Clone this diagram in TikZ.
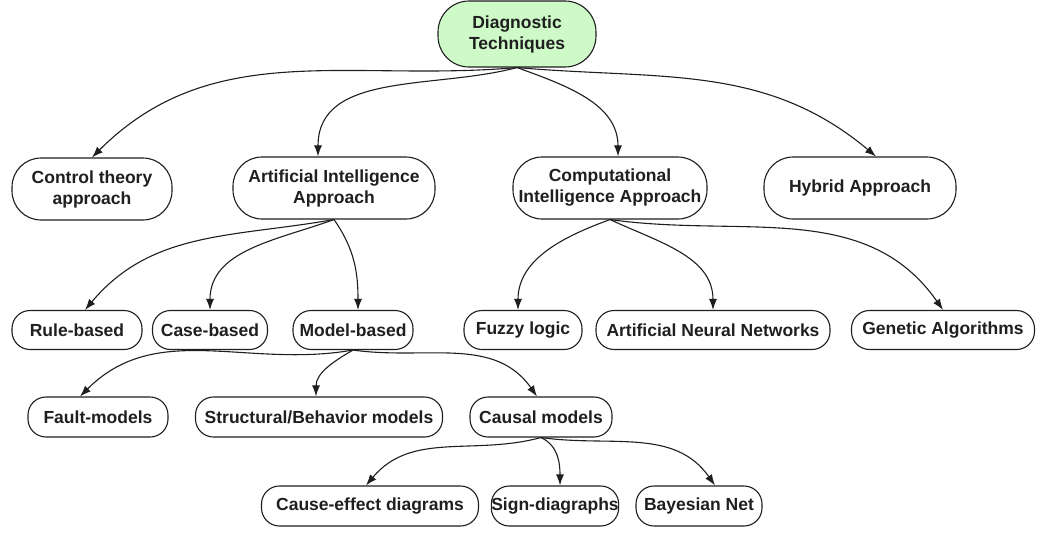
\documentclass[tikz,border=0pt]{standalone}
\usepackage{fontspec}
\setmainfont{Liberation Sans}
\usetikzlibrary{arrows.meta}
\definecolor{rootgreen}{RGB}{206,250,200}
\definecolor{edgecol}{RGB}{30,30,30}
\tikzset{
  box/.style={draw=edgecol, line width=1.1pt, fill=white, font=\fontsize{17.5}{21}\selectfont\bfseries,
    text=black!88, align=center, inner sep=0pt},
  bigbox/.style={box, minimum height=62pt, rounded corners=29pt},
  smallbox/.style={box, minimum height=39pt, rounded corners=18pt},
  conn/.style={draw=edgecol, line width=1.1pt, -{Latex[length=11pt,width=8pt]}},
}
\begin{document}
\begin{tikzpicture}[x=1pt,y=-1pt]
\useasboundingbox (0,0) rectangle (1047,541);
% level 0
\node[bigbox, fill=rootgreen, minimum width=158pt, minimum height=66pt, rounded corners=31pt] (root) at (517,34) {Diagnostic\\Techniques};
% level 1
\node[bigbox, minimum width=160pt] (ctrl) at (92,189) {Control theory\\approach};
\node[bigbox, minimum width=202pt] (ai) at (334,188) {Artificial Intelligence\\Approach};
\node[bigbox, minimum width=194pt] (ci) at (610,188) {Computational\\Intelligence Approach};
\node[bigbox, minimum width=192pt] (hyb) at (860,188) {Hybrid Approach};
% level 2
\node[smallbox, minimum width=130pt] (rule) at (77,330) {Rule-based};
\node[smallbox, minimum width=115pt] (case) at (210,330) {Case-based};
\node[smallbox, minimum width=120pt] (model) at (353,330) {Model-based};
\node[smallbox, minimum width=118pt] (fuzzy) at (523,330) {Fuzzy logic};
\node[smallbox, minimum width=234pt] (ann) at (713,330) {Artificial Neural Networks};
\node[smallbox, minimum width=183pt] (ga) at (943,330) {Genetic Algorithms};
% level 3
\node[smallbox, minimum width=140pt, minimum height=40pt] (fault) at (98,417) {Fault-models};
\node[smallbox, minimum width=247pt, minimum height=40pt] (struct) at (319,417) {Structural/Behavior models};
\node[smallbox, minimum width=142pt, minimum height=40pt] (causal) at (541,417) {Causal models};
% level 4
\node[smallbox, minimum width=217pt, minimum height=40pt] (ce) at (370,506) {Cause-effect diagrams};
\node[smallbox, minimum width=122pt, minimum height=40pt] (sign) at (555,506) {Sign-diagraphs};
\node[smallbox, minimum width=126pt, minimum height=40pt] (bayes) at (699,506) {Bayesian Net};
% connectors
\draw[conn] (root.south) to[out=185,in=45] (ctrl.north);
\draw[conn] (root.south) to[out=195,in=90] (ai.north -| 318,0);
\draw[conn] (root.south) to[out=-20,in=90] (ci.north -| 618,0);
\draw[conn] (root.south) to[out=-5,in=140] (hyb.north -| 876,0);

\draw[conn] (ai.south) to[out=190,in=50] (rule.north -| 85,0);
\draw[conn] (ai.south) to[out=200,in=90] (case.north);
\draw[conn] (ai.south) to[out=-55,in=90] (model.north -| 358,0);

\draw[conn] (ci.south) to[out=200,in=90] (fuzzy.north -| 518,0);
\draw[conn] (ci.south) to[out=-25,in=90] (ann.north);
\draw[conn] (ci.south) to[out=-8,in=125] (ga.north);

\draw[conn] (model.south) to[out=190,in=45] (fault.north -| 80,0);
\draw[conn] (model.south) to[out=210,in=90] (struct.north -| 316,0);
\draw[conn] (model.south) to[out=-8,in=125] (causal.north -| 537,0);

\draw[conn] (causal.south) to[out=195,in=50] (ce.north -| 366,0);
\draw[conn] (causal.south) to[out=-25,in=90] (sign.north -| 560,0);
\draw[conn] (causal.south) to[out=-8,in=125] (bayes.north -| 715,0);
\end{tikzpicture}
\end{document}
